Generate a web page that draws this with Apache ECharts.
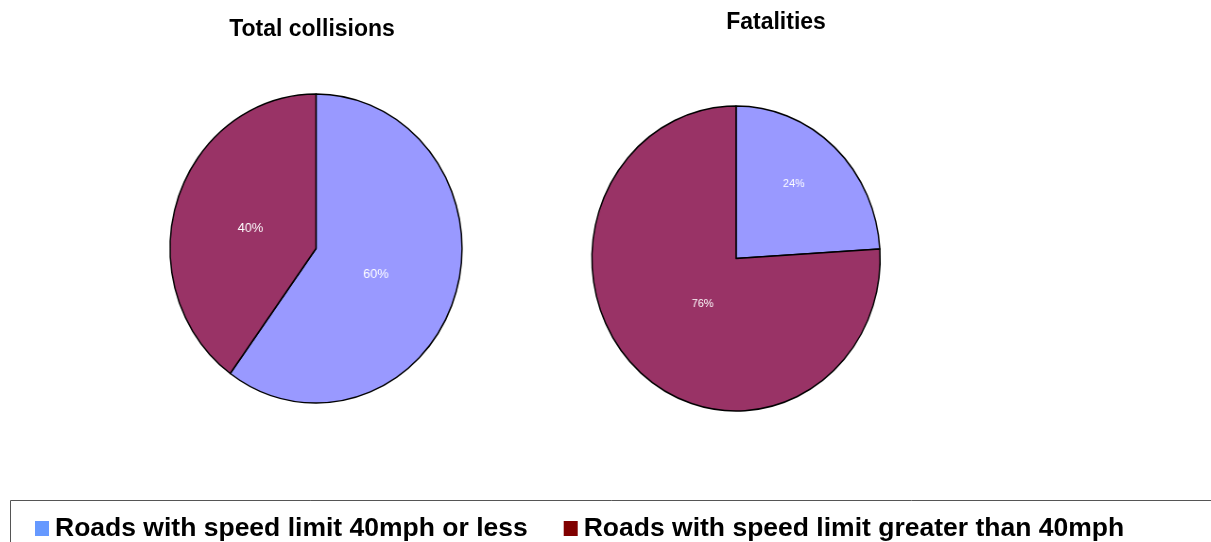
<!DOCTYPE html>
<html>
<head>
<meta charset="utf-8">
<script src="https://cdn.jsdelivr.net/npm/echarts@6/dist/echarts.min.js"></script>
<style>
  html, body { margin: 0; padding: 0; background: #ffffff; }
  #wrap { position: relative; width: 1211px; height: 542px; overflow: hidden; background: #ffffff; }
  #wrap > div { position: absolute; left: 0; top: 0; width: 1211px; height: 542px; }
  /* the pies are drawn slightly narrower than tall */
  #pies { transform: scaleX(0.945); transform-origin: 0 0; }
</style>
</head>
<body>
<div id="wrap">
  <div id="pies"></div>
  <div id="frame"></div>
</div>
<script>
// Road categories shared by both pies
const categories = ['Roads with speed limit 40mph or less', 'Roads with speed limit greater than 40mph'];
// Share of total collisions (%)
const collisionsShare = [60, 40];
// Share of fatalities (%)
const fatalitiesShare = [24, 76];
// Pie titles
const pieTitles = ['Total collisions', 'Fatalities'];

const sliceColors = ['#9999FF', '#993366'];
const legendColors = ['#6699FF', '#800000'];
const FONT = '"Liberation Sans", Arial, sans-serif';
const SX = 0.945; // horizontal squeeze applied to the pie layer

function pieSeries(values, cx, cy, radius, labelSize, offsets) {
  return {
    type: 'pie',
    center: [cx / SX, cy],
    radius: radius,
    startAngle: 90,
    clockwise: true,
    silent: true,
    animation: false,
    itemStyle: { borderColor: '#000000', borderWidth: 1.5 },
    label: {
      show: true,
      position: 'inside',
      formatter: '{c}%',
      color: '#ffffff',
      fontFamily: FONT,
      fontSize: labelSize
    },
    labelLine: { show: false },
    emphasis: { disabled: true },
    data: values.map((v, i) => ({
      name: categories[i],
      value: v,
      itemStyle: { color: sliceColors[i] },
      label: { offset: offsets[i] }
    }))
  };
}

const pies = echarts.init(document.getElementById('pies'), null, { renderer: 'canvas' });
pies.setOption({
  animation: false,
  series: [
    pieSeries(collisionsShare, 316, 248.5, 154.5, 13.5, [[-13, 1], [7, 5]]),
    pieSeries(fatalitiesShare, 736, 258.5, 152.5, 11.5, [[7, -17], [19, -12]])
  ]
});

const frame = echarts.init(document.getElementById('frame'), null, { renderer: 'canvas' });
const titleStyle = { fontFamily: FONT, fontWeight: 'bold', fontSize: 23, color: '#000000' };
frame.setOption({
  animation: false,
  title: [
    { text: pieTitles[0], left: 307, top: 13, textAlign: 'center', textStyle: titleStyle },
    { text: pieTitles[1], left: 771, top: 6, textAlign: 'center', textStyle: titleStyle }
  ],
  graphic: [
    { type: 'rect', shape: { x: 10.5, y: 500.5, width: 1220, height: 60 },
      style: { fill: 'none', stroke: '#555555', lineWidth: 1 }, silent: true }
  ],
  legend: {
    left: 30,
    top: 510,
    itemWidth: 14,
    itemHeight: 15,
    itemGap: 36,
    icon: 'rect',
    selectedMode: false,
    textStyle: { fontFamily: FONT, fontWeight: 'bold', fontSize: 26.5, color: '#000000', padding: [0, 0, 0, 1] },
    data: categories.map((c, i) => ({ name: c, itemStyle: { color: legendColors[i], borderWidth: 0 } }))
  },
  series: [
    // legend entries need a series carrying the category names
    { type: 'pie', radius: 0, silent: true, label: { show: false },
      data: categories.map((c) => ({ name: c, value: 0 })) }
  ]
});
</script>
</body>
</html>
